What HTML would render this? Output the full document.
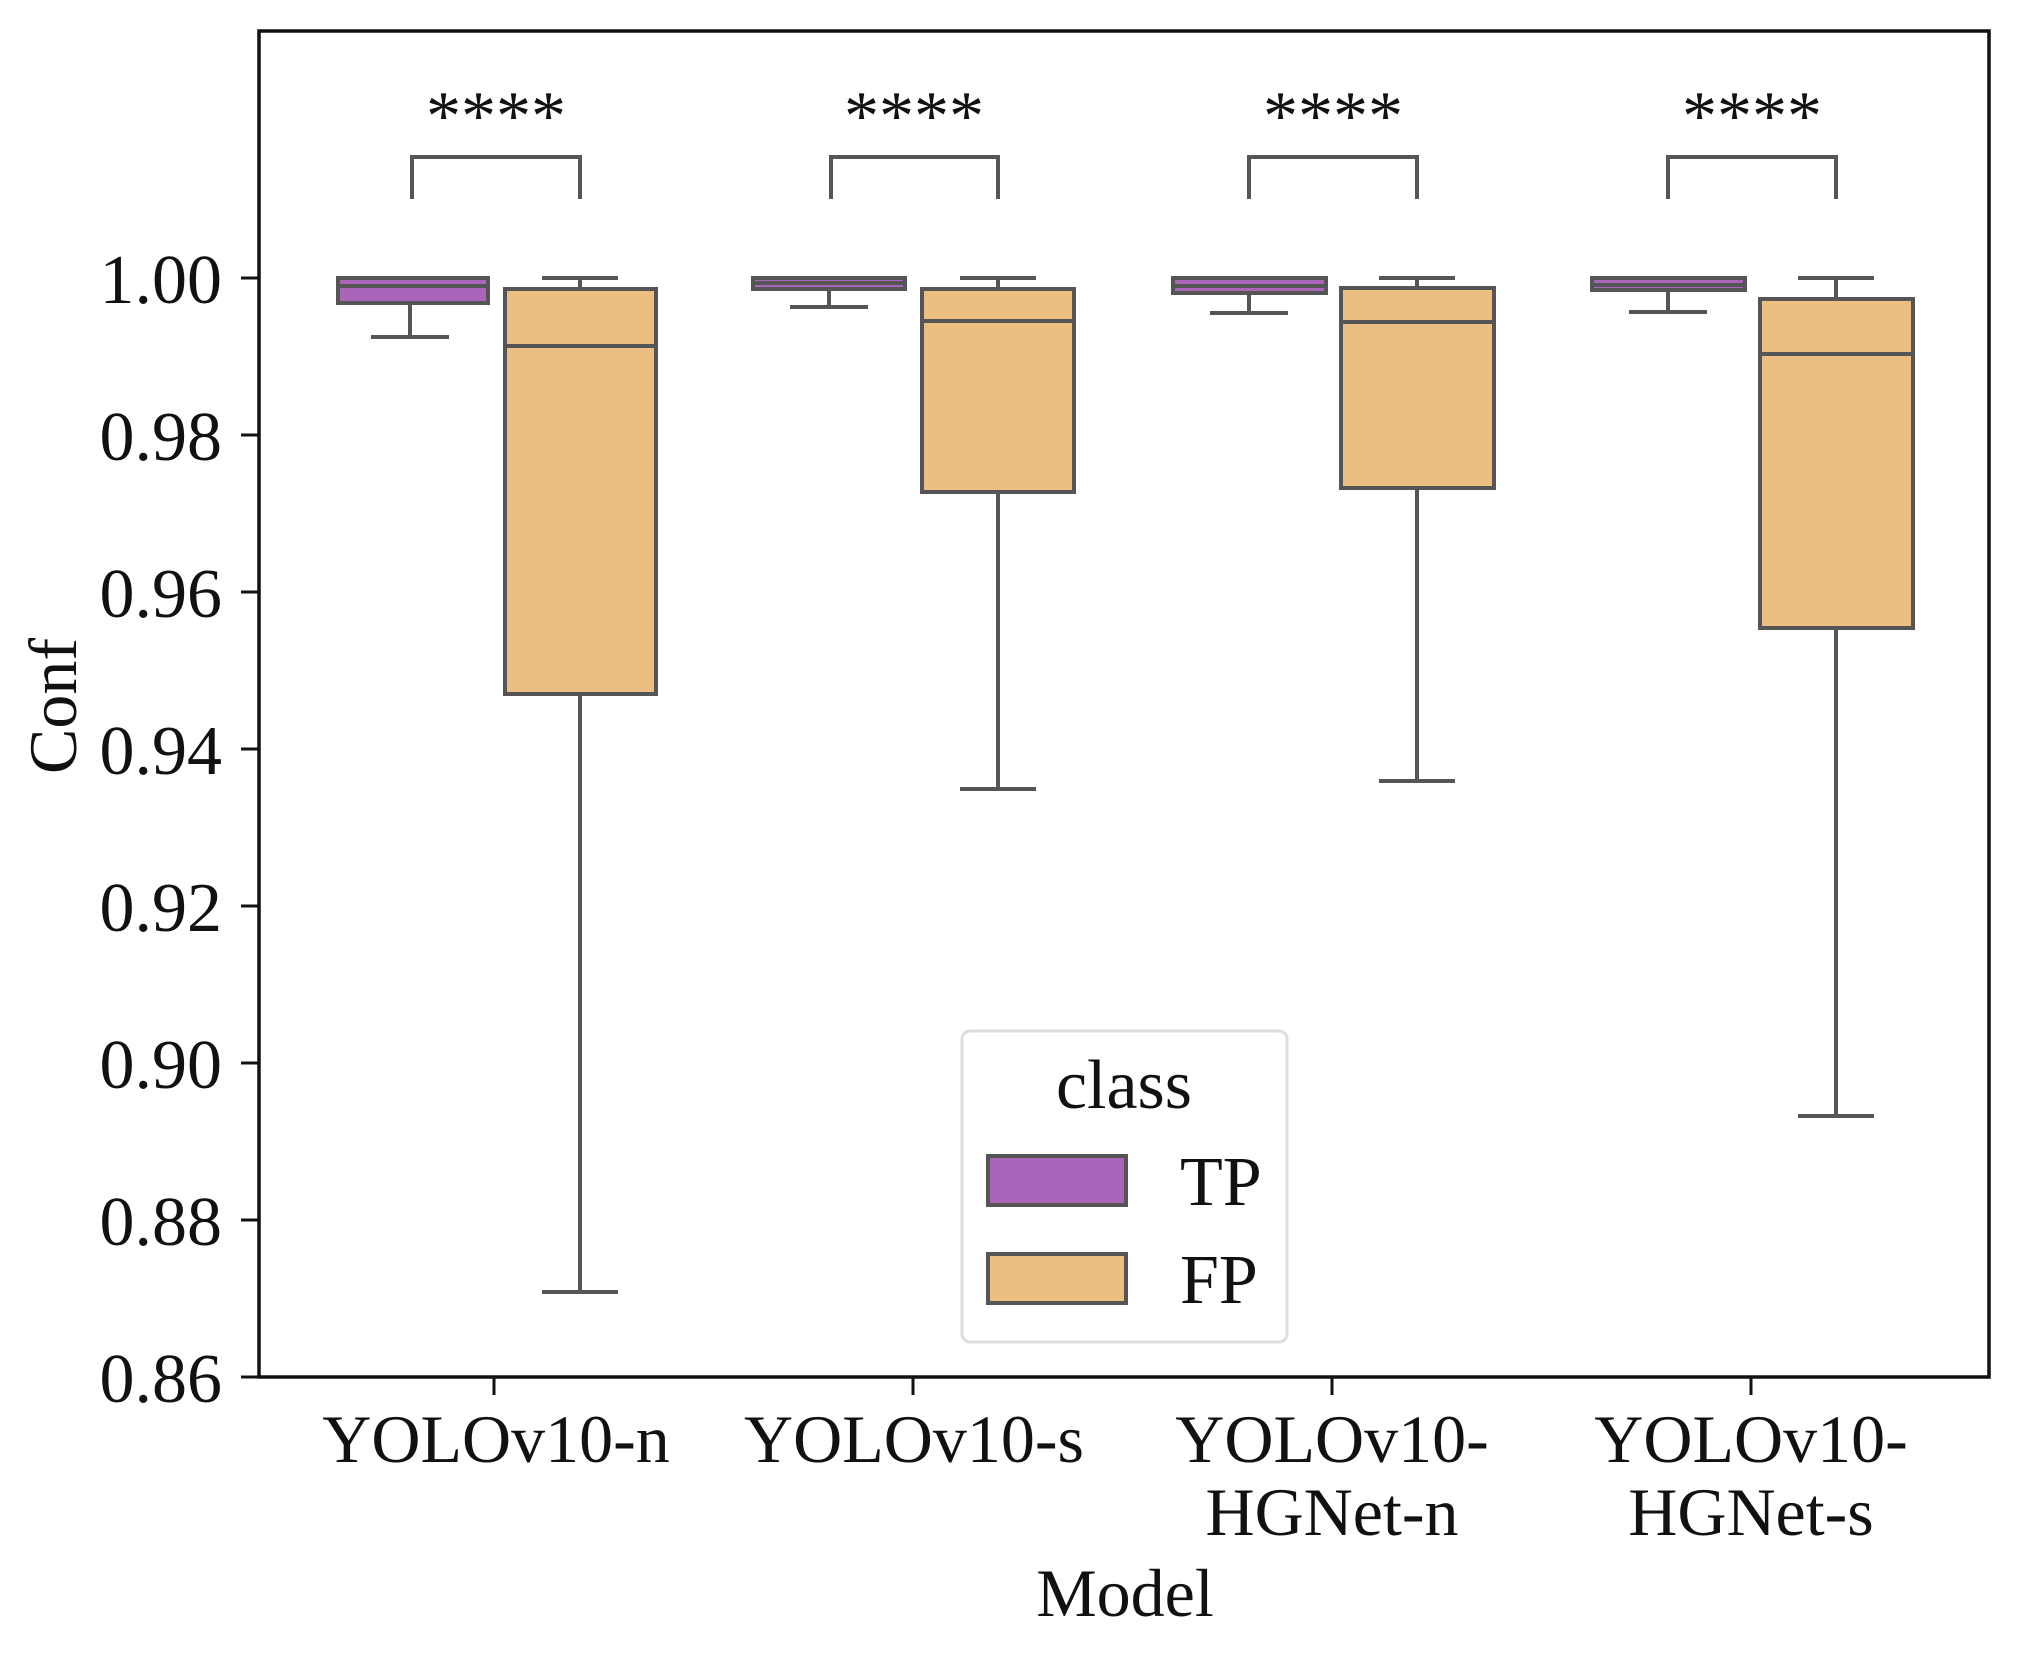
<!DOCTYPE html>
<html><head><meta charset="utf-8"><style>body{margin:0;background:#fff}svg{display:block}</style></head>
<body>
<svg width="2030" height="1653" viewBox="0 0 2030 1653" xmlns="http://www.w3.org/2000/svg" font-family="'Liberation Serif', serif">
<rect width="2030" height="1653" fill="#fff"/>
<g stroke="#555" stroke-width="4" fill="none">
<line x1="410" y1="278" x2="410" y2="337"/><line x1="371" y1="337" x2="449" y2="337"/><line x1="371" y1="278" x2="449" y2="278"/>
<rect x="338" y="278" width="150" height="25" fill="#a865ba"/><line x1="338" y1="286" x2="488" y2="286"/>
<line x1="580" y1="278" x2="580" y2="1292"/><line x1="542" y1="1292" x2="618" y2="1292"/><line x1="542" y1="278" x2="618" y2="278"/>
<rect x="505" y="289" width="151" height="405" fill="#ebbe81"/><line x1="505" y1="346" x2="656" y2="346"/>
<line x1="829" y1="278" x2="829" y2="307"/><line x1="790" y1="307" x2="868" y2="307"/><line x1="790" y1="278" x2="868" y2="278"/>
<rect x="753" y="278" width="152" height="11" fill="#a865ba"/><line x1="753" y1="283" x2="905" y2="283"/>
<line x1="998" y1="278" x2="998" y2="789"/><line x1="960" y1="789" x2="1036" y2="789"/><line x1="960" y1="278" x2="1036" y2="278"/>
<rect x="922" y="289" width="152" height="203" fill="#ebbe81"/><line x1="922" y1="321" x2="1074" y2="321"/>
<line x1="1249" y1="278" x2="1249" y2="313"/><line x1="1210" y1="313" x2="1288" y2="313"/><line x1="1210" y1="278" x2="1288" y2="278"/>
<rect x="1173" y="278" width="153" height="15" fill="#a865ba"/><line x1="1173" y1="286" x2="1326" y2="286"/>
<line x1="1417" y1="278" x2="1417" y2="781"/><line x1="1379" y1="781" x2="1455" y2="781"/><line x1="1379" y1="278" x2="1455" y2="278"/>
<rect x="1341" y="288" width="153" height="200" fill="#ebbe81"/><line x1="1341" y1="322" x2="1494" y2="322"/>
<line x1="1668" y1="278" x2="1668" y2="312"/><line x1="1629" y1="312" x2="1707" y2="312"/><line x1="1629" y1="278" x2="1707" y2="278"/>
<rect x="1592" y="278" width="153" height="12" fill="#a865ba"/><line x1="1592" y1="285" x2="1745" y2="285"/>
<line x1="1836" y1="278" x2="1836" y2="1116"/><line x1="1798" y1="1116" x2="1874" y2="1116"/><line x1="1798" y1="278" x2="1874" y2="278"/>
<rect x="1760" y="299" width="153" height="329" fill="#ebbe81"/><line x1="1760" y1="354" x2="1913" y2="354"/>
<path d="M412 199V157H580V199"/><path d="M831 199V157H998V199"/><path d="M1249 199V157H1417V199"/><path d="M1668 199V157H1836V199"/>
</g>
<g font-size="70" text-anchor="middle" fill="#111">
<text x="496" y="139">****</text><text x="914" y="139">****</text><text x="1333" y="139">****</text><text x="1752" y="139">****</text>
</g>
<rect x="259" y="31" width="1730" height="1346" fill="none" stroke="#111" stroke-width="3.5"/>
<g stroke="#111" stroke-width="3">
<line x1="241" y1="278" x2="259" y2="278"/><line x1="241" y1="435" x2="259" y2="435"/><line x1="241" y1="592" x2="259" y2="592"/><line x1="241" y1="749" x2="259" y2="749"/><line x1="241" y1="906" x2="259" y2="906"/><line x1="241" y1="1063" x2="259" y2="1063"/><line x1="241" y1="1220" x2="259" y2="1220"/><line x1="241" y1="1377" x2="259" y2="1377"/>
<line x1="494" y1="1377" x2="494" y2="1395"/><line x1="913" y1="1377" x2="913" y2="1395"/><line x1="1332" y1="1377" x2="1332" y2="1395"/><line x1="1751" y1="1377" x2="1751" y2="1395"/>
</g>
<g font-size="70" fill="#111" text-anchor="end">
<text x="222" y="303">1.00</text><text x="222" y="460">0.98</text><text x="222" y="617">0.96</text><text x="222" y="774">0.94</text><text x="222" y="931">0.92</text><text x="222" y="1088">0.90</text><text x="222" y="1245">0.88</text><text x="222" y="1402">0.86</text>
</g>
<g font-size="68" fill="#111" text-anchor="middle">
<text x="496" y="1462">YOLOv10-n</text><text x="914" y="1462">YOLOv10-s</text>
<text x="1332" y="1462">YOLOv10-</text><text x="1332" y="1535">HGNet-n</text>
<text x="1751" y="1462">YOLOv10-</text><text x="1751" y="1535">HGNet-s</text>
<text x="1125" y="1616">Model</text>
<text transform="translate(76,706) rotate(-90)">Conf</text>
</g>
<rect x="962" y="1031" width="325" height="311" rx="8" fill="#fff" stroke="#ddd" stroke-width="3"/>
<g font-size="70" fill="#111">
<text x="1124" y="1108" text-anchor="middle">class</text>
<text x="1180" y="1205">TP</text><text x="1180" y="1303">FP</text>
</g>
<rect x="988" y="1156" width="138" height="49" fill="#a865ba" stroke="#555" stroke-width="4"/>
<rect x="988" y="1254" width="138" height="49" fill="#ebbe81" stroke="#555" stroke-width="4"/>
</svg>
</body></html>
